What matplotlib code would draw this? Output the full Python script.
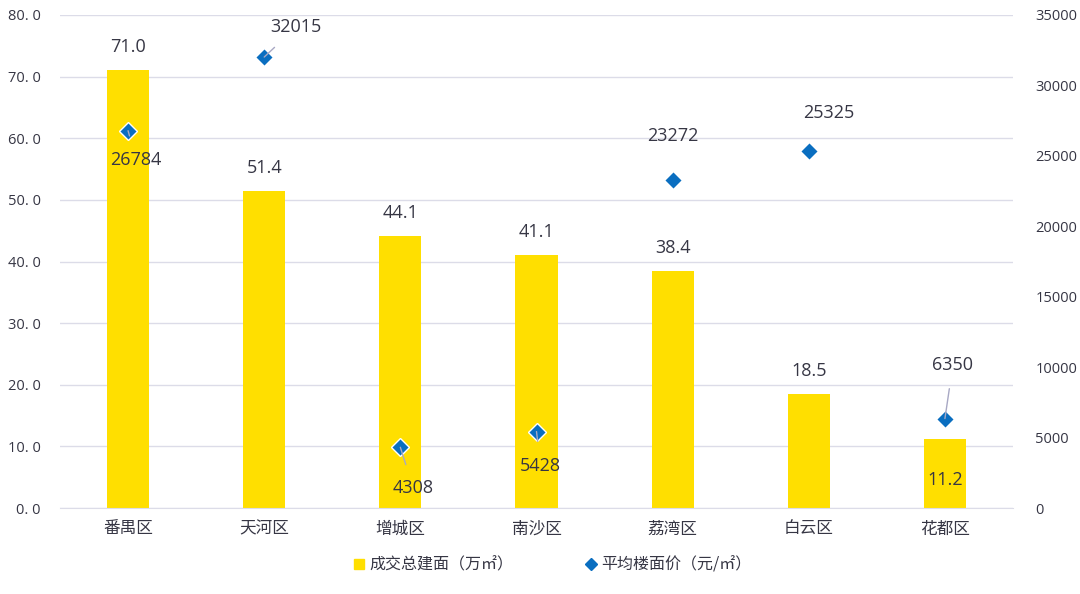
import numpy as np
import matplotlib
matplotlib.use('Agg')
import matplotlib.pyplot as plt
from matplotlib.lines import Line2D

plt.rcParams['font.family'] = ['Noto Sans CJK SC', 'DejaVu Sans']
fonte_num = ['Open Sans', 'Noto Sans CJK SC', 'DejaVu Sans']

# dados do gráfico
distritos = ['番禺区', '天河区', '增城区', '南沙区', '荔湾区', '白云区', '花都区']
area_total = [71.0, 51.4, 44.1, 41.1, 38.4, 18.5, 11.2]        # 万㎡
preco_medio = [26784, 32015, 4308, 5428, 23272, 25325, 6350]    # 元/㎡
ticks_esq = [0, 10, 20, 30, 40, 50, 60, 70, 80]
ticks_dir = [0, 5000, 10000, 15000, 20000, 25000, 30000, 35000]

# deslocamento (px) dos rótulos de preço e se tem linha de chamada
desloc_preco = [(8, -29), (32, 30), (13, -41), (4, -34), (0, 44), (20, 38), (8, 54)]
linha_chamada = [True, True, True, True, False, False, True]
desloc_area = [23, 23, 23, 23, 23, 23, -41]

amarelo = '#FFDF00'
azul = '#0A6EC0'
texto = '#363644'
grade = '#DCDCE8'

px = 0.72  # pontos por pixel em dpi 100

fig = plt.figure(figsize=(10.8, 5.94), dpi=100)
ax = fig.add_axes([60 / 1080, 1 - 508 / 594, 953 / 1080, 493 / 594])
ax2 = ax.twinx()

x = np.arange(len(distritos))
ax.bar(x, area_total, width=0.31, color=amarelo, zorder=2)
ax.set_xlim(-0.5, len(distritos) - 0.5)
ax.set_ylim(0, 80)
ax.set_yticks(ticks_esq)
ax.set_yticklabels([('%.1f' % v).replace('.', '. ') for v in ticks_esq],
                   fontsize=10.5, color=texto, family=fonte_num)
ax.set_xticks(x)
ax.set_xticklabels(distritos, fontsize=12, color=texto)
ax.grid(axis='y', color=grade, linewidth=1, zorder=0)
ax.set_axisbelow(True)
ax.tick_params(axis='x', length=0, pad=9)
ax.tick_params(axis='y', length=0, pad=14)
for s in ax.spines.values():
    s.set_visible(False)
ax.spines['bottom'].set_visible(True)
ax.spines['bottom'].set_color(grade)

for i, v in enumerate(area_total):
    ax.annotate('%.1f' % v, (x[i], v), xytext=(0, desloc_area[i] * px),
                textcoords='offset points', ha='center', va='center',
                fontsize=13, color=texto, family=fonte_num, zorder=5)

ax2.set_ylim(0, 35000)
ax2.set_yticks(ticks_dir)
ax2.set_yticklabels([str(v) for v in ticks_dir], fontsize=10.5, color=texto, family=fonte_num)
ax2.tick_params(length=0, pad=16)
for s in ax2.spines.values():
    s.set_visible(False)

ax2.plot(x, preco_medio, linestyle='none', marker='D', markersize=9,
         color=azul, markeredgecolor='white', markeredgewidth=1, zorder=4)

for i, v in enumerate(preco_medio):
    dx, dy = desloc_preco[i]
    seta = None
    if linha_chamada[i]:
        seta = dict(arrowstyle='-', color='#A8A8C4', lw=1, shrinkA=9, shrinkB=0)
    ax2.annotate(str(v), (x[i], v), xytext=(dx * px, dy * px),
                 textcoords='offset points', ha='center', va='center',
                 fontsize=13, color=texto, family=fonte_num, arrowprops=seta, zorder=5)

handles = [
    Line2D([], [], linestyle='none', marker='s', markersize=7, color=amarelo),
    Line2D([], [], linestyle='none', marker='D', markersize=6, color=azul),
]
fig.legend(handles, ['成交总建面（万㎡）', '平均楼面价（元/㎡）'], loc='center',
           bbox_to_anchor=(552 / 1080, 1 - 565 / 594), ncol=2, frameon=False,
           fontsize=11.5, handletextpad=0.2, columnspacing=4.5, handlelength=0.8,
           labelcolor=texto)

fig.savefig('out.png', dpi=100)
